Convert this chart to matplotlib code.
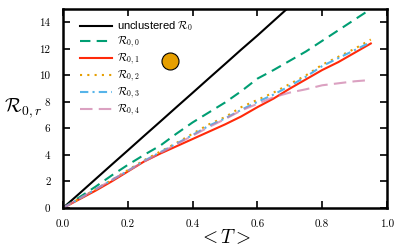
import numpy as np
import matplotlib
matplotlib.use("Agg")
from matplotlib import pyplot as plt

plt.rcParams['font.family'] = 'serif'
plt.rcParams['font.serif'] = ['cmr10']
plt.rcParams['mathtext.fontset'] = 'cm'
plt.rcParams['axes.formatter.use_mathtext'] = True

T = [0.0, 0.05, 0.1, 0.15, 0.2, 0.25, 0.3, 0.35, 0.4, 0.45,
     0.5, 0.55, 0.6, 0.65, 0.7, 0.75, 0.8, 0.85, 0.9, 0.95]

r0_unclustered = [0, 1.08, 2.17, 3.26, 4.34, 5.43, 6.51, 7.6, 8.68, 9.77,
                  10.85, 11.94, 13.0, 14.1, 15.2, 16.3, 17.4, 18.4, 19.5, 20.6]
r0_0 = [0, 0.8, 1.6, 2.45, 3.25, 4.0, 4.7, 5.6, 6.45, 7.2,
        7.95, 8.8, 9.75, 10.4, 11.1, 11.8, 12.6, 13.4, 14.2, 15.0]
r0_1 = [0, 0.65, 1.3, 2.0, 2.75, 3.5, 4.1, 4.65, 5.2, 5.75,
        6.3, 6.9, 7.6, 8.25, 9.0, 9.7, 10.4, 11.0, 11.7, 12.4]
r0_2 = [0, 0.7, 1.4, 2.1, 2.85, 3.6, 4.25, 4.9, 5.6, 6.3,
        6.85, 7.6, 8.15, 8.7, 9.35, 10.0, 10.8, 11.4, 12.0, 12.7]
r0_3 = [0, 0.7, 1.4, 2.1, 2.8, 3.55, 4.2, 4.85, 5.5, 6.2,
        6.75, 7.4, 8.0, 8.55, 9.2, 9.9, 10.7, 11.3, 11.9, 12.5]
r0_4 = [0, 0.7, 1.4, 2.1, 2.8, 3.5, 4.15, 4.8, 5.45, 6.1,
        6.7, 7.35, 7.85, 8.35, 8.7, 8.95, 9.25, 9.4, 9.55, 9.65]

point_T = [0.33]
point_R = [11.05]

fig = plt.figure(figsize=(4, 2.5), dpi=100)
ax = fig.add_axes([0.1575, 0.168, 0.81, 0.796])

ax.plot(T, r0_unclustered, color='black', lw=1.5, label=r'unclustered $\mathcal{R}_0$')
ax.plot(T, r0_0, color='#009E73', lw=1.5, ls=(0, (5, 3)), label=r'$\mathcal{R}_{0,0}$')
ax.plot(T, r0_1, color='#FF2A0A', lw=1.5, label=r'$\mathcal{R}_{0,1}$')
ax.plot(T, r0_2, color='#E69F00', lw=1.5, ls=(0, (1, 2.5)), label=r'$\mathcal{R}_{0,2}$')
ax.plot(T, r0_3, color='#56B4E9', lw=1.5, ls=(0, (4, 2, 1, 2)), label=r'$\mathcal{R}_{0,3}$')
ax.plot(T, r0_4, color='#CC79A7', lw=1.5, ls=(0, (6, 3)), alpha=0.7, label=r'$\mathcal{R}_{0,4}$')
ax.scatter(point_T, point_R, s=150, color='#E69F00', edgecolor='black', lw=0.8, zorder=5)

ax.set_xlim(0, 1.0)
ax.set_ylim(0, 15)
ax.set_xticks([0.0, 0.2, 0.4, 0.6, 0.8, 1.0])
ax.set_yticks([0, 2, 4, 6, 8, 10, 12, 14])
ax.set_xticklabels(['0.0', '0.2', '0.4', '0.6', '0.8', '1.0'])
ax.set_yticklabels(['0', '2', '4', '6', '8', '10', '12', '14'])
ax.tick_params(direction='in', top=True, right=True, labelsize=8, width=1.2, length=5)
ax.tick_params(axis='x', pad=8)
ax.tick_params(axis='y', pad=9)
for s in ax.spines.values():
    s.set_linewidth(1.8)

ax.set_xlabel(r'$<T>$', fontsize=14, labelpad=0)
ax.set_ylabel(r'$\mathcal{R}_{0,r}$', fontsize=14, rotation=0, labelpad=12, va='center')

ax.legend(loc='upper left', bbox_to_anchor=(0.038, 0.97), borderaxespad=0, frameon=False,
          handlelength=2.9, handletextpad=0.45, labelspacing=0.15,
          prop={'family': 'Liberation Sans', 'size': 8})

plt.savefig('out.png', dpi=100)
